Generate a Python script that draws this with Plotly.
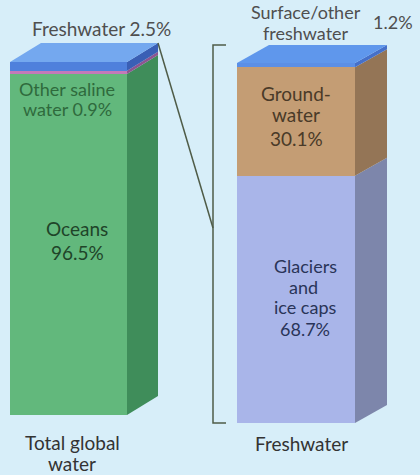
import plotly.graph_objects as go

W, H = 420, 475

# ---------------- data ----------------
total_labels = ["Oceans", "Other saline water", "Freshwater"]
total_values = [96.5, 0.9, 2.5]
fresh_labels = ["Glaciers and ice caps", "Groundwater", "Surface/other freshwater"]
fresh_values = [68.7, 30.1, 1.2]
category_labels = ["Total global water", "Freshwater"]

# ---------------- styles / layout ----------------
BG = "#d7eef9"
FONT = "Lato"
bars = [
    dict(values=total_values, axis="y", ax_key="yaxis", x0=10, x1=127, top=62, bottom=415, dx=31, dy=19,
         front=["#62b87c", "#c479b9", "#4f80dc"], side=["#3f8d5a", "#8d5591", "#3a5fb5"], topc="#74a8ef"),
    dict(values=fresh_values, axis="y2", ax_key="yaxis2", x0=237, x1=355, top=63, bottom=423, dx=32, dy=18,
         front=["#a9b5e9", "#c49d74", "#5b8fe6"], side=["#7d86ab", "#947556", "#4670c9"], topc="#5f97ec"),
]

fig = go.Figure()
layout_axes = {}

for b in bars:
    vals = b["values"]
    tot = sum(vals)
    upp = tot / (b["bottom"] - b["top"])  # axis units per pixel
    rng = [-(H - b["bottom"]) * upp, tot + b["top"] * upp]
    ax = dict(range=rng, domain=[0, 1], visible=False, fixedrange=True)
    if b["axis"] != "y":
        ax["overlaying"] = "y"
    layout_axes[b["ax_key"]] = ax
    dyu = b["dy"] * upp
    xc = (b["x0"] + b["x1"]) / 2
    wdt = b["x1"] - b["x0"]
    base = 0.0
    for i, v in enumerate(vals):
        fig.add_trace(go.Bar(x=[xc], y=[v], base=[base], width=wdt, marker=dict(color=b["front"][i], line=dict(width=0)),
                             yaxis=b["axis"], hoverinfo="skip", showlegend=False))
        t = base + v
        fig.add_trace(go.Scatter(
            x=[b["x1"], b["x1"] + b["dx"], b["x1"] + b["dx"], b["x1"], b["x1"]],
            y=[base, base + dyu, t + dyu, t, base],
            fill="toself", mode="none", fillcolor=b["side"][i], yaxis=b["axis"],
            hoverinfo="skip", showlegend=False))
        base = t
    fig.add_trace(go.Scatter(
        x=[b["x0"], b["x0"] + b["dx"], b["x1"] + b["dx"], b["x1"], b["x0"]],
        y=[tot, tot + dyu, tot + dyu, tot, tot],
        fill="toself", mode="none", fillcolor=b["topc"], yaxis=b["axis"],
        hoverinfo="skip", showlegend=False))
    b["upp"] = upp
    b["tot"] = tot


def py(px):
    return 1 - px / H

LINE = "#4f5c48"
rb = bars[1]
lb = bars[0]
br_x, br_tick = 213, 13
fig.add_trace(go.Scatter(x=[br_x + br_tick, br_x, br_x, br_x + br_tick],
                         y=[rb["tot"] + rb["dy"] * rb["upp"], rb["tot"] + rb["dy"] * rb["upp"], 0, 0],
                         mode="lines", line=dict(color=LINE, width=1.5), yaxis="y2",
                         hoverinfo="skip", showlegend=False))
conn_end_px = 228
fig.add_trace(go.Scatter(x=[lb["x1"] + lb["dx"], br_x],
                         y=[lb["tot"] + lb["dy"] * lb["upp"], (lb["bottom"] - conn_end_px) * lb["upp"]],
                         mode="lines", line=dict(color=LINE, width=1.5), yaxis="y",
                         hoverinfo="skip", showlegend=False))

annotations = []


def txt(text, x, y, color, size=19):
    annotations.append(dict(text=text, x=x, y=py(y), xref="x", yref="paper", showarrow=False,
                            xanchor="center", yanchor="middle",
                            font=dict(family=FONT, size=size, color=color)))

GRAY = "#4f4f4f"
DARK = "#333333"
txt(f"{total_labels[2]} {total_values[2]}%", 101, 28, GRAY, 19)
txt("Other saline", 67, 89, "#2f6a3c", 18)
txt(f"water {total_values[1]}%", 67, 109, "#2f6a3c", 18)
txt(total_labels[0], 77, 228, "#1f4429", 19)
txt(f"{total_values[0]}%", 77, 252, "#1f4429", 19)

txt("Surface/other", 306, 12, GRAY, 18)
txt("freshwater", 306, 33, GRAY, 18)
txt(f"{fresh_values[2]}%", 393, 22, GRAY, 18)
txt("Ground-", 296, 93, "#4a3a28", 19)
txt("water", 296, 115, "#4a3a28", 19)
txt(f"{fresh_values[1]}%", 296, 138, "#4a3a28", 19)
txt("Glaciers", 305, 266, "#2a3458", 18)
txt("and", 303, 287, "#2a3458", 18)
txt("ice caps", 305, 307, "#2a3458", 18)
txt(f"{fresh_values[0]}%", 305, 329, "#2a3458", 18)

txt("Total global", 72, 442, DARK, 19)
txt("water", 72, 463, DARK, 19)
txt(category_labels[1], 301, 443, DARK, 19)

fig.update_layout(
    width=W, height=H, margin=dict(l=0, r=0, t=0, b=0),
    paper_bgcolor=BG, plot_bgcolor=BG,
    barmode="overlay", bargap=0,
    xaxis=dict(range=[0, W], domain=[0, 1], visible=False, fixedrange=True),
    annotations=annotations,
    showlegend=False,
    **layout_axes,
)

fig.write_html("out.html", config={"displayModeBar": False})
